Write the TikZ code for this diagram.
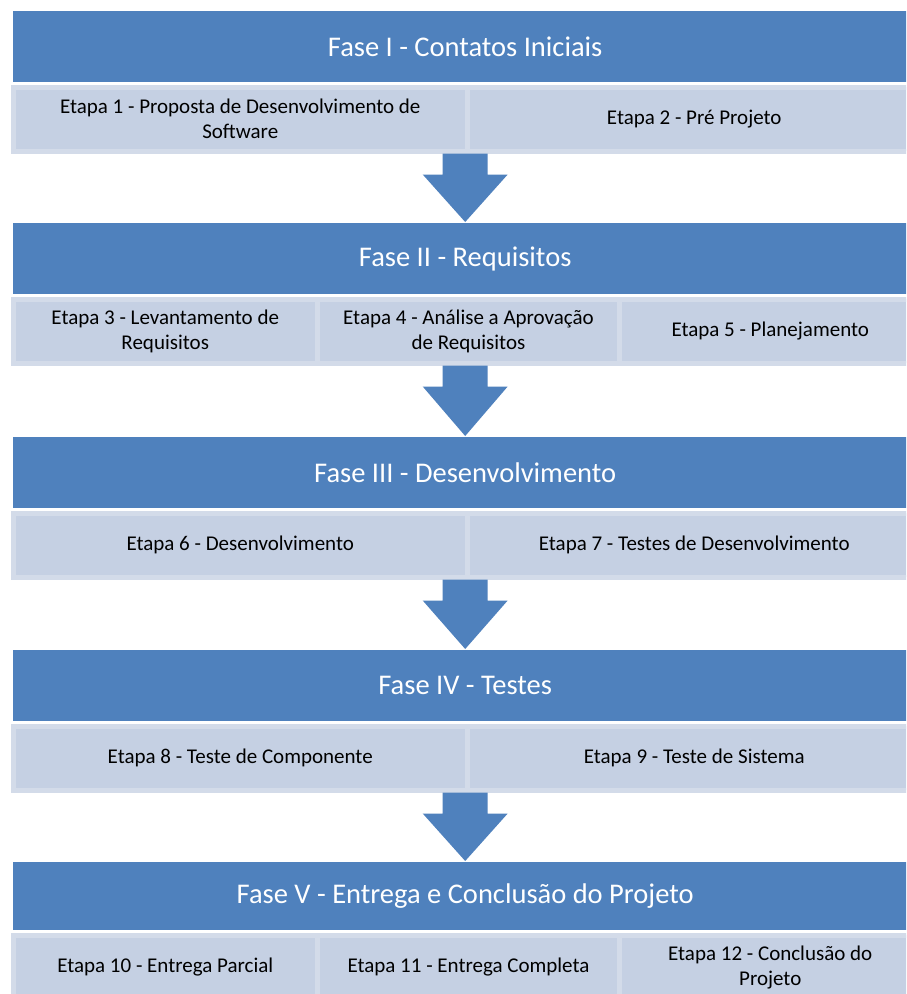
\documentclass[tikz,border=0pt]{standalone}
\usepackage{fontspec}
\setmainfont{Carlito}
\usetikzlibrary{calc}
\definecolor{hdrblue}{HTML}{4F81BD}
\definecolor{subfill}{HTML}{C5D0E3}
\definecolor{subedge}{HTML}{D3DBE9}
\newcommand\phasearrow[2]{%
  \fill[blockarrow] ($(#1)+(-22.5,0)$) -- ($(#1)+(22.5,0)$) -- ($(#1)+(22.5,21)$) -- ($(#1)+(42.5,21)$)
    -- ($(#2)+(0,-1)$) -- ($(#1)+(-42.5,21)$) -- ($(#1)+(-22.5,21)$) -- cycle;}
\begin{document}
\begin{tikzpicture}[x=1pt,y=-1pt,
  header/.style={rectangle, fill=hdrblue, text=white, anchor=north west, inner sep=0pt,
    minimum width=904pt, minimum height=71pt, font=\fontsize{28.5}{34}\selectfont},
  stage/.style={rectangle, fill=subfill, draw=subedge, line width=5pt, anchor=north west,
    inner sep=2pt, minimum height=64pt, align=center, text=black, font=\fontsize{21}{25}\selectfont},
  blockarrow/.style={fill=hdrblue}]
\useasboundingbox (0,0) rectangle (906,994);
\clip (0,0) rectangle (906,994);
\fill[white] (0,0) rectangle (906,994);

% Fase I
\node[header] (h1) at (13,11) {Fase I - Contatos Iniciais};
\node[stage, minimum width=454.5pt] (s1a) at (10.5,84.5) {Etapa 1 - Proposta de Desenvolvimento de\\Software};
\node[stage, minimum width=453.5pt] (s1b) at (465,84.5) {Etapa 2 - Pré Projeto};

% Fase II
\node[header] (h2) at (13,223) {Fase II - Requisitos};
\node[stage, minimum width=304.5pt] (s2a) at (10.5,296.5) {Etapa 3 - Levantamento de\\Requisitos};
\node[stage, minimum width=302pt] (s2b) at (315,296.5) {Etapa 4 - Análise a Aprovação\\de Requisitos};
\node[stage, minimum width=301.5pt] (s2c) at (617,296.5) {Etapa 5 - Planejamento};

% Fase III
\node[header] (h3) at (13,437) {Fase III - Desenvolvimento};
\node[stage, minimum width=454.5pt] (s3a) at (10.5,510.5) {Etapa 6 - Desenvolvimento};
\node[stage, minimum width=453.5pt] (s3b) at (465,510.5) {Etapa 7 - Testes de Desenvolvimento};

% Fase IV
\node[header] (h4) at (13,650) {Fase IV - Testes};
\node[stage, minimum width=454.5pt] (s4a) at (10.5,723.5) {Etapa 8 - Teste de Componente};
\node[stage, minimum width=453.5pt] (s4b) at (465,723.5) {Etapa 9 - Teste de Sistema};

% Fase V
\node[header, minimum height=68pt] (h5) at (13,862) {Fase V - Entrega e Conclusão do Projeto};
\node[stage, minimum width=304.5pt] (s5a) at (10.5,932.5) {Etapa 10 - Entrega Parcial};
\node[stage, minimum width=302pt] (s5b) at (315,932.5) {Etapa 11 - Entrega Completa};
\node[stage, minimum width=301.5pt] (s5c) at (617,932.5) {Etapa 12 - Conclusão do\\Projeto};

% arrows
\coordinate (a1top) at (s1a.south -| h1.south);
\coordinate (a2top) at (s2b.south -| h2.south);
\coordinate (a3top) at (s3a.south -| h3.south);
\coordinate (a4top) at (s4a.south -| h4.south);
\phasearrow{a1top}{h2.north}
\phasearrow{a2top}{h3.north}
\phasearrow{a3top}{h4.north}
\phasearrow{a4top}{h5.north}
\end{tikzpicture}
\end{document}
